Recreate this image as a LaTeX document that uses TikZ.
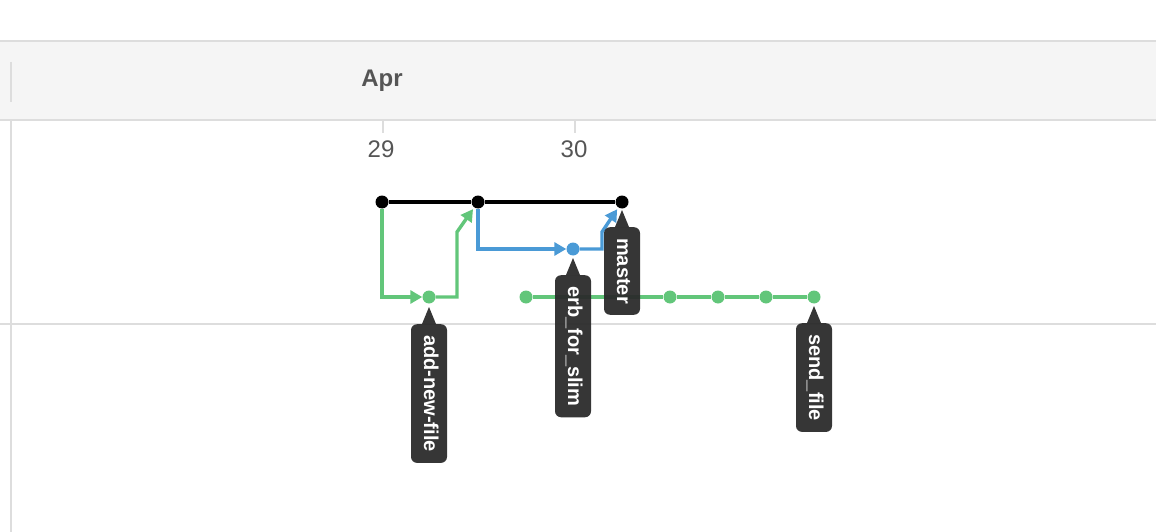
\documentclass[tikz,border=0pt]{standalone}
\usepackage{fontspec}
\setmainfont{Liberation Sans}
\usetikzlibrary{arrows.meta,positioning}
\pgfdeclarelayer{background}
\pgfsetlayers{background,main}
\definecolor{gridgray}{HTML}{DDDDDD}
\definecolor{headfill}{HTML}{F5F5F5}
\definecolor{daytext}{HTML}{555555}
\definecolor{tagfill}{HTML}{2B2B2B}
\definecolor{brgreen}{HTML}{62C67A}
\definecolor{brblue}{HTML}{4A9AD6}

\begin{document}
\begin{tikzpicture}[
  x=1pt,y=-1pt,
  >={Triangle[length=12pt,width=13pt]},
  commit/.style={circle,inner sep=0pt,minimum size=13pt,fill=#1},
  branch/.style={line width=3.4pt,draw=#1},
  tag/.style={fill=tagfill,fill opacity=.95,text opacity=1,text=white,rounded corners=6pt,
    rotate=-90,anchor=west,inner xsep=11pt,inner ysep=8pt,text height=15pt,text depth=5pt,
    font=\fontsize{20}{24}\selectfont\bfseries},
  daylbl/.style={text=daytext,font=\fontsize{24}{28}\selectfont},
]
  \useasboundingbox (0,0) rectangle (1156,532);

  % header and grid
  \begin{pgfonlayer}{background}
    \fill[headfill] (0,41) rectangle (1156,120);
    \draw[gridgray,line width=2pt] (0,41) -- (1156,41) (0,120) -- (1156,120);
    \draw[gridgray,line width=2pt] (11,62) -- (11,102) (11,121) -- (11,532);
    \draw[gridgray,line width=2pt] (0,324) -- (1156,324);
    \draw[gridgray,line width=2pt] (383,121) -- (383,133) (575,121) -- (575,133);
  \end{pgfonlayer}
  \node[daylbl,font=\fontsize{24}{28}\selectfont\bfseries] (month) at (382,81) {Apr};
  \node[daylbl] (d29) at (381,149) {29};
  \node[daylbl] (d30) at (574,149) {30};

  % commits
  \node[commit=black] (m1) at (382,202) {};
  \node[commit=black] (m2) at (478,202) {};
  \node[commit=black] (m3) at (622,202) {};
  \node[commit=brgreen] (a1) at (429,297) {};
  \node[commit=brblue] (e1) at (573,249) {};
  \foreach \i/\x in {1/526,2/670,3/718,4/766,5/814}
    \node[commit=brgreen] (s\i) at (\x,297) {};

  \begin{pgfonlayer}{background}
    \draw[branch=black,line width=4pt] (m1) -- (m2) -- (m3);
    \draw[branch=brgreen] (s1) -- (s2) -- (s3) -- (s4) -- (s5);
    \draw[branch=brgreen,->] (m1) |- (a1);
    \draw[branch=brgreen,->,shorten >=2pt] (a1) -- ++(28,0) -- ++(0,-65) -- (m2);
    \draw[branch=brblue,->] (m2) |- (e1);
    \draw[branch=brblue,->,shorten >=2pt] (e1) -- ++(29,0) -- ++(0,-17) -- (m3);
  \end{pgfonlayer}

  % branch tags
  \node[tag] (tnew) at ([yshift=-27pt]a1.center) {add-new-file};
  \node[tag] (terb) at ([yshift=-26pt]e1.center) {erb\_for\_slim};
  \node[tag] (tmaster) at ([yshift=-25pt]m3.center) {master};
  \node[tag] (tsend) at ([yshift=-26pt]s5.center) {send\_file};
  \foreach \t in {tnew,terb,tmaster,tsend}
    \fill[tagfill,fill opacity=.95] ([xshift=-7pt]\t.west) -- ([yshift=17pt]\t.west) -- ([xshift=7pt]\t.west) -- cycle;
\end{tikzpicture}
\end{document}
